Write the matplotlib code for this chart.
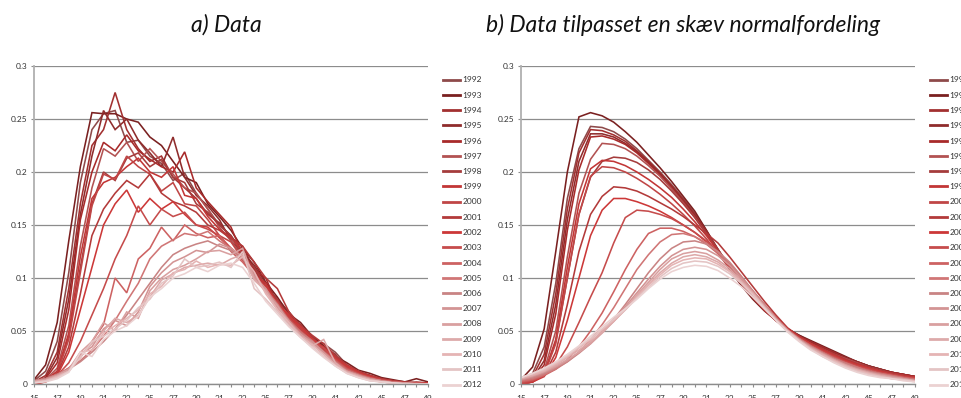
import matplotlib
matplotlib.use("Agg")
import matplotlib.pyplot as plt
from matplotlib.lines import Line2D

plt.rcParams['font.family'] = ['Lato', 'DejaVu Sans']

ages = list(range(15, 50))
years = list(range(1992, 2013))
age_tick_labels = [str(a) if a % 2 == 1 else "" for a in ages]
y_ticks = [0, 0.05, 0.1, 0.15, 0.2, 0.25, 0.3]
y_tick_labels = ["0", "0.05", "0.1", "0.15", "0.2", "0.25", "0.3"]

year_colors = ["#8e4a4a", "#7a2020", "#a23030", "#8f2c2c", "#a82a2a", "#b25252",
               "#a53c3c", "#c23636", "#c04646", "#b33a3a", "#cc3838", "#c64c4c",
               "#cd6262", "#d07676", "#c98484", "#d39494", "#d9a0a0", "#ddaaaa",
               "#e5b4b4", "#e4c4c4", "#ebd2d2"]

# a) observed age distribution per year (ages 15..49)
obs_1992 = [0.003, 0.012, 0.040, 0.105, 0.190, 0.240, 0.255, 0.258, 0.228, 0.230, 0.215, 0.208, 0.192, 0.199, 0.180, 0.165, 0.150, 0.140, 0.125, 0.110, 0.092, 0.080, 0.068, 0.055, 0.044, 0.038, 0.030, 0.018, 0.012, 0.008, 0.005, 0.003, 0.002, 0.001, 0.001]
obs_1993 = [0.004, 0.018, 0.058, 0.135, 0.205, 0.256, 0.255, 0.255, 0.250, 0.247, 0.233, 0.225, 0.210, 0.195, 0.190, 0.170, 0.158, 0.145, 0.128, 0.115, 0.096, 0.082, 0.066, 0.058, 0.045, 0.036, 0.026, 0.020, 0.013, 0.010, 0.006, 0.004, 0.002, 0.005, 0.002]
obs_1994 = [0.002, 0.008, 0.030, 0.090, 0.170, 0.225, 0.240, 0.275, 0.240, 0.222, 0.210, 0.215, 0.195, 0.185, 0.175, 0.160, 0.152, 0.138, 0.130, 0.108, 0.090, 0.078, 0.063, 0.052, 0.043, 0.033, 0.025, 0.016, 0.011, 0.007, 0.004, 0.002, 0.001, 0.001, 0.001]
obs_1995 = [0.001, 0.006, 0.025, 0.080, 0.160, 0.215, 0.258, 0.240, 0.250, 0.230, 0.218, 0.205, 0.233, 0.195, 0.178, 0.168, 0.155, 0.135, 0.124, 0.112, 0.095, 0.078, 0.068, 0.050, 0.042, 0.035, 0.028, 0.012, 0.010, 0.008, 0.004, 0.003, 0.001, 0.001, 0.000]
obs_1996 = [0.001, 0.005, 0.020, 0.070, 0.155, 0.200, 0.228, 0.220, 0.235, 0.220, 0.212, 0.205, 0.200, 0.219, 0.185, 0.172, 0.160, 0.148, 0.122, 0.108, 0.100, 0.075, 0.062, 0.056, 0.040, 0.032, 0.024, 0.017, 0.011, 0.007, 0.004, 0.002, 0.001, 0.001, 0.001]
obs_1997 = [0.000, 0.004, 0.015, 0.055, 0.130, 0.185, 0.222, 0.215, 0.228, 0.210, 0.222, 0.210, 0.198, 0.185, 0.180, 0.165, 0.148, 0.135, 0.120, 0.105, 0.090, 0.076, 0.064, 0.050, 0.041, 0.034, 0.025, 0.016, 0.012, 0.006, 0.004, 0.002, 0.001, 0.002, 0.001]
obs_1998 = [0.000, 0.003, 0.012, 0.045, 0.110, 0.170, 0.200, 0.192, 0.213, 0.218, 0.205, 0.212, 0.195, 0.190, 0.170, 0.162, 0.150, 0.140, 0.120, 0.110, 0.092, 0.080, 0.062, 0.052, 0.045, 0.032, 0.024, 0.015, 0.010, 0.007, 0.004, 0.002, 0.001, 0.001, 0.000]
obs_1999 = [0.000, 0.003, 0.012, 0.048, 0.120, 0.175, 0.190, 0.195, 0.205, 0.213, 0.200, 0.195, 0.205, 0.178, 0.175, 0.158, 0.146, 0.138, 0.126, 0.103, 0.095, 0.075, 0.066, 0.051, 0.040, 0.035, 0.026, 0.016, 0.011, 0.008, 0.004, 0.003, 0.001, 0.001, 0.001]
obs_2000 = [0.000, 0.003, 0.010, 0.042, 0.105, 0.168, 0.198, 0.193, 0.215, 0.205, 0.198, 0.182, 0.190, 0.170, 0.168, 0.155, 0.140, 0.134, 0.118, 0.106, 0.088, 0.078, 0.061, 0.053, 0.042, 0.033, 0.023, 0.014, 0.012, 0.007, 0.004, 0.002, 0.001, 0.001, 0.000]
obs_2001 = [0.000, 0.002, 0.009, 0.035, 0.085, 0.140, 0.165, 0.180, 0.192, 0.185, 0.198, 0.180, 0.172, 0.168, 0.162, 0.150, 0.145, 0.137, 0.130, 0.115, 0.100, 0.090, 0.068, 0.055, 0.046, 0.038, 0.027, 0.018, 0.012, 0.008, 0.005, 0.003, 0.002, 0.001, 0.001]
obs_2002 = [0.000, 0.002, 0.008, 0.030, 0.070, 0.110, 0.150, 0.170, 0.183, 0.162, 0.175, 0.165, 0.172, 0.160, 0.150, 0.148, 0.138, 0.128, 0.117, 0.102, 0.092, 0.076, 0.064, 0.054, 0.043, 0.034, 0.024, 0.017, 0.011, 0.007, 0.004, 0.002, 0.001, 0.001, 0.001]
obs_2003 = [0.001, 0.003, 0.008, 0.020, 0.040, 0.065, 0.090, 0.118, 0.140, 0.168, 0.150, 0.165, 0.158, 0.162, 0.150, 0.146, 0.140, 0.128, 0.118, 0.100, 0.090, 0.074, 0.062, 0.050, 0.040, 0.034, 0.023, 0.015, 0.010, 0.006, 0.004, 0.002, 0.001, 0.001, 0.000]
obs_2004 = [0.002, 0.004, 0.008, 0.015, 0.025, 0.040, 0.056, 0.100, 0.086, 0.118, 0.128, 0.148, 0.135, 0.150, 0.142, 0.138, 0.140, 0.125, 0.115, 0.102, 0.088, 0.076, 0.060, 0.050, 0.040, 0.031, 0.022, 0.014, 0.009, 0.006, 0.003, 0.002, 0.001, 0.001, 0.000]
obs_2005 = [0.003, 0.005, 0.009, 0.015, 0.022, 0.032, 0.045, 0.060, 0.078, 0.095, 0.118, 0.130, 0.136, 0.142, 0.140, 0.144, 0.135, 0.128, 0.120, 0.100, 0.090, 0.075, 0.060, 0.049, 0.041, 0.030, 0.021, 0.013, 0.009, 0.005, 0.003, 0.002, 0.001, 0.000, 0.000]
obs_2006 = [0.003, 0.005, 0.009, 0.014, 0.021, 0.030, 0.040, 0.052, 0.065, 0.080, 0.095, 0.110, 0.122, 0.128, 0.132, 0.135, 0.130, 0.126, 0.118, 0.104, 0.088, 0.075, 0.058, 0.048, 0.040, 0.029, 0.020, 0.012, 0.008, 0.005, 0.003, 0.001, 0.001, 0.000, 0.000]
obs_2007 = [0.003, 0.004, 0.008, 0.013, 0.028, 0.035, 0.052, 0.060, 0.055, 0.068, 0.092, 0.105, 0.115, 0.120, 0.126, 0.124, 0.132, 0.128, 0.120, 0.102, 0.090, 0.072, 0.060, 0.046, 0.040, 0.030, 0.020, 0.012, 0.008, 0.005, 0.003, 0.001, 0.001, 0.000, 0.000]
obs_2008 = [0.002, 0.004, 0.008, 0.014, 0.030, 0.040, 0.058, 0.050, 0.068, 0.062, 0.088, 0.100, 0.108, 0.112, 0.118, 0.125, 0.126, 0.122, 0.128, 0.100, 0.087, 0.074, 0.058, 0.047, 0.038, 0.028, 0.018, 0.012, 0.008, 0.004, 0.002, 0.001, 0.001, 0.000, 0.000]
obs_2009 = [0.002, 0.003, 0.007, 0.012, 0.026, 0.038, 0.050, 0.062, 0.058, 0.065, 0.082, 0.098, 0.104, 0.110, 0.112, 0.114, 0.112, 0.118, 0.122, 0.098, 0.088, 0.070, 0.056, 0.045, 0.036, 0.042, 0.020, 0.011, 0.007, 0.004, 0.002, 0.001, 0.000, 0.000, 0.000]
obs_2010 = [0.002, 0.003, 0.007, 0.012, 0.030, 0.032, 0.048, 0.055, 0.062, 0.070, 0.085, 0.092, 0.105, 0.108, 0.116, 0.110, 0.113, 0.112, 0.120, 0.106, 0.085, 0.070, 0.058, 0.045, 0.037, 0.028, 0.018, 0.011, 0.007, 0.004, 0.002, 0.001, 0.000, 0.000, 0.000]
obs_2011 = [0.001, 0.003, 0.006, 0.012, 0.025, 0.040, 0.045, 0.052, 0.060, 0.072, 0.080, 0.095, 0.102, 0.118, 0.110, 0.112, 0.115, 0.110, 0.125, 0.090, 0.080, 0.068, 0.055, 0.044, 0.035, 0.026, 0.017, 0.010, 0.006, 0.003, 0.002, 0.001, 0.000, 0.000, 0.000]
obs_2012 = [0.001, 0.002, 0.005, 0.011, 0.030, 0.026, 0.042, 0.050, 0.055, 0.064, 0.082, 0.090, 0.100, 0.104, 0.110, 0.106, 0.112, 0.114, 0.110, 0.095, 0.078, 0.066, 0.054, 0.044, 0.034, 0.025, 0.017, 0.010, 0.006, 0.003, 0.002, 0.001, 0.000, 0.000, 0.000]

# b) fitted skew-normal curves per year (ages 15..49)
fit_1992 = [0.002, 0.010, 0.035, 0.095, 0.175, 0.222, 0.243, 0.242, 0.238, 0.231, 0.222, 0.211, 0.200, 0.188, 0.175, 0.161, 0.145, 0.127, 0.110, 0.094, 0.081, 0.070, 0.060, 0.052, 0.046, 0.040, 0.035, 0.030, 0.025, 0.021, 0.017, 0.014, 0.011, 0.009, 0.007]
fit_1993 = [0.004, 0.016, 0.052, 0.125, 0.200, 0.252, 0.256, 0.253, 0.247, 0.238, 0.228, 0.216, 0.204, 0.191, 0.177, 0.163, 0.145, 0.126, 0.108, 0.093, 0.080, 0.069, 0.060, 0.052, 0.046, 0.041, 0.036, 0.031, 0.026, 0.021, 0.017, 0.014, 0.011, 0.009, 0.007]
fit_1994 = [0.001, 0.007, 0.028, 0.085, 0.165, 0.218, 0.240, 0.239, 0.235, 0.229, 0.220, 0.210, 0.199, 0.187, 0.174, 0.160, 0.144, 0.127, 0.110, 0.095, 0.082, 0.070, 0.060, 0.052, 0.045, 0.040, 0.035, 0.030, 0.025, 0.021, 0.017, 0.014, 0.011, 0.009, 0.007]
fit_1995 = [0.001, 0.005, 0.022, 0.075, 0.155, 0.210, 0.236, 0.236, 0.233, 0.227, 0.219, 0.209, 0.198, 0.186, 0.173, 0.159, 0.143, 0.126, 0.110, 0.095, 0.082, 0.070, 0.060, 0.052, 0.045, 0.039, 0.034, 0.029, 0.025, 0.021, 0.017, 0.014, 0.011, 0.009, 0.007]
fit_1996 = [0.000, 0.004, 0.018, 0.066, 0.145, 0.202, 0.233, 0.234, 0.231, 0.226, 0.218, 0.208, 0.197, 0.185, 0.172, 0.158, 0.142, 0.126, 0.110, 0.095, 0.082, 0.070, 0.060, 0.052, 0.045, 0.039, 0.034, 0.029, 0.024, 0.020, 0.016, 0.013, 0.011, 0.009, 0.007]
fit_1997 = [0.000, 0.003, 0.013, 0.050, 0.120, 0.180, 0.212, 0.227, 0.226, 0.222, 0.215, 0.206, 0.196, 0.184, 0.171, 0.157, 0.142, 0.126, 0.110, 0.095, 0.082, 0.070, 0.060, 0.051, 0.044, 0.038, 0.033, 0.028, 0.024, 0.020, 0.016, 0.013, 0.010, 0.008, 0.006]
fit_1998 = [0.000, 0.002, 0.010, 0.040, 0.100, 0.160, 0.195, 0.210, 0.214, 0.213, 0.209, 0.202, 0.193, 0.182, 0.170, 0.157, 0.142, 0.127, 0.111, 0.096, 0.082, 0.070, 0.060, 0.051, 0.044, 0.038, 0.033, 0.028, 0.023, 0.019, 0.016, 0.013, 0.010, 0.008, 0.006]
fit_1999 = [0.000, 0.002, 0.010, 0.042, 0.110, 0.170, 0.203, 0.211, 0.210, 0.206, 0.200, 0.193, 0.185, 0.176, 0.165, 0.153, 0.140, 0.125, 0.110, 0.096, 0.082, 0.070, 0.060, 0.051, 0.044, 0.038, 0.032, 0.027, 0.023, 0.019, 0.015, 0.012, 0.010, 0.008, 0.006]
fit_2000 = [0.000, 0.002, 0.009, 0.038, 0.100, 0.160, 0.196, 0.205, 0.204, 0.200, 0.194, 0.187, 0.179, 0.170, 0.160, 0.149, 0.137, 0.123, 0.109, 0.095, 0.082, 0.070, 0.060, 0.051, 0.044, 0.037, 0.032, 0.027, 0.022, 0.018, 0.015, 0.012, 0.009, 0.007, 0.006]
fit_2001 = [0.000, 0.002, 0.008, 0.030, 0.075, 0.125, 0.160, 0.177, 0.186, 0.185, 0.182, 0.177, 0.171, 0.165, 0.158, 0.150, 0.142, 0.133, 0.120, 0.106, 0.092, 0.078, 0.065, 0.053, 0.045, 0.038, 0.033, 0.028, 0.023, 0.019, 0.015, 0.012, 0.010, 0.008, 0.006]
fit_2002 = [0.000, 0.002, 0.007, 0.025, 0.060, 0.100, 0.140, 0.164, 0.175, 0.175, 0.172, 0.168, 0.163, 0.157, 0.150, 0.143, 0.134, 0.124, 0.113, 0.100, 0.087, 0.075, 0.063, 0.052, 0.044, 0.038, 0.032, 0.027, 0.022, 0.018, 0.015, 0.012, 0.009, 0.007, 0.006]
fit_2003 = [0.001, 0.003, 0.008, 0.018, 0.035, 0.058, 0.082, 0.105, 0.133, 0.157, 0.164, 0.163, 0.160, 0.156, 0.150, 0.143, 0.135, 0.125, 0.113, 0.100, 0.087, 0.074, 0.062, 0.051, 0.043, 0.037, 0.031, 0.026, 0.021, 0.017, 0.014, 0.011, 0.009, 0.007, 0.005]
fit_2004 = [0.002, 0.004, 0.008, 0.014, 0.023, 0.035, 0.050, 0.067, 0.087, 0.108, 0.127, 0.142, 0.147, 0.147, 0.144, 0.139, 0.132, 0.123, 0.112, 0.100, 0.087, 0.074, 0.062, 0.051, 0.043, 0.036, 0.030, 0.025, 0.020, 0.016, 0.013, 0.010, 0.008, 0.006, 0.005]
fit_2005 = [0.003, 0.005, 0.009, 0.014, 0.021, 0.030, 0.042, 0.056, 0.072, 0.090, 0.108, 0.122, 0.134, 0.141, 0.142, 0.139, 0.133, 0.124, 0.113, 0.101, 0.088, 0.075, 0.062, 0.051, 0.043, 0.036, 0.030, 0.024, 0.020, 0.016, 0.012, 0.010, 0.008, 0.006, 0.004]
fit_2006 = [0.004, 0.006, 0.010, 0.015, 0.021, 0.029, 0.038, 0.049, 0.061, 0.075, 0.090, 0.105, 0.118, 0.128, 0.134, 0.135, 0.132, 0.125, 0.115, 0.102, 0.088, 0.075, 0.062, 0.051, 0.042, 0.035, 0.029, 0.024, 0.019, 0.015, 0.012, 0.009, 0.007, 0.005, 0.004]
fit_2007 = [0.004, 0.007, 0.011, 0.016, 0.022, 0.030, 0.039, 0.049, 0.061, 0.073, 0.086, 0.099, 0.111, 0.121, 0.127, 0.129, 0.127, 0.121, 0.112, 0.100, 0.087, 0.074, 0.062, 0.051, 0.042, 0.035, 0.029, 0.023, 0.018, 0.014, 0.011, 0.009, 0.007, 0.005, 0.003]
fit_2008 = [0.005, 0.008, 0.012, 0.017, 0.023, 0.030, 0.038, 0.048, 0.059, 0.071, 0.084, 0.096, 0.108, 0.118, 0.123, 0.125, 0.123, 0.117, 0.109, 0.098, 0.086, 0.073, 0.061, 0.050, 0.042, 0.034, 0.028, 0.023, 0.018, 0.014, 0.011, 0.008, 0.006, 0.005, 0.003]
fit_2009 = [0.005, 0.008, 0.012, 0.018, 0.025, 0.032, 0.040, 0.049, 0.059, 0.070, 0.083, 0.094, 0.105, 0.114, 0.120, 0.122, 0.120, 0.115, 0.107, 0.097, 0.086, 0.073, 0.061, 0.050, 0.041, 0.034, 0.028, 0.022, 0.017, 0.013, 0.010, 0.008, 0.006, 0.004, 0.003]
fit_2010 = [0.006, 0.009, 0.013, 0.019, 0.026, 0.034, 0.042, 0.051, 0.060, 0.070, 0.082, 0.093, 0.103, 0.112, 0.117, 0.119, 0.118, 0.113, 0.106, 0.096, 0.085, 0.072, 0.060, 0.050, 0.041, 0.033, 0.027, 0.022, 0.017, 0.013, 0.010, 0.007, 0.005, 0.004, 0.003]
fit_2011 = [0.006, 0.010, 0.014, 0.020, 0.027, 0.035, 0.043, 0.052, 0.061, 0.070, 0.081, 0.091, 0.101, 0.109, 0.114, 0.116, 0.115, 0.111, 0.104, 0.095, 0.084, 0.072, 0.060, 0.050, 0.041, 0.033, 0.026, 0.021, 0.016, 0.012, 0.009, 0.007, 0.005, 0.004, 0.002]
fit_2012 = [0.006, 0.010, 0.015, 0.021, 0.028, 0.036, 0.045, 0.054, 0.063, 0.071, 0.080, 0.090, 0.099, 0.106, 0.110, 0.112, 0.111, 0.107, 0.100, 0.092, 0.082, 0.071, 0.060, 0.049, 0.040, 0.032, 0.026, 0.020, 0.015, 0.011, 0.008, 0.006, 0.005, 0.003, 0.002]

observed = [obs_1992, obs_1993, obs_1994, obs_1995, obs_1996, obs_1997, obs_1998,
            obs_1999, obs_2000, obs_2001, obs_2002, obs_2003, obs_2004, obs_2005,
            obs_2006, obs_2007, obs_2008, obs_2009, obs_2010, obs_2011, obs_2012]
fitted = [fit_1992, fit_1993, fit_1994, fit_1995, fit_1996, fit_1997, fit_1998,
          fit_1999, fit_2000, fit_2001, fit_2002, fit_2003, fit_2004, fit_2005,
          fit_2006, fit_2007, fit_2008, fit_2009, fit_2010, fit_2011, fit_2012]

W, H = 962, 398
fig = plt.figure(figsize=(W / 100, H / 100), dpi=100)


def axes_px(x0, x1, y_top, y_bot):
    return fig.add_axes([x0 / W, 1 - y_bot / H, (x1 - x0) / W, (y_bot - y_top) / H])


def style_axes(ax):
    ax.set_xlim(15, 49)
    ax.set_ylim(0, 0.3)
    ax.set_xticks(ages)
    ax.set_xticklabels(age_tick_labels)
    ax.set_yticks(y_ticks)
    ax.set_yticklabels(y_tick_labels)
    ax.grid(axis='y', color='#8c8c8c', linewidth=0.9)
    ax.set_axisbelow(True)
    for side in ('top', 'right'):
        ax.spines[side].set_visible(False)
    ax.spines['left'].set_color('#b0b0b0')
    ax.spines['left'].set_linewidth(1.3)
    ax.spines['bottom'].set_color('#8c8c8c')
    ax.spines['bottom'].set_linewidth(1.0)
    ax.tick_params(axis='x', length=2.5, width=0.8, color='#8c8c8c', pad=5.5,
                   labelsize=6, labelcolor='#333333')
    ax.tick_params(axis='y', length=2.5, width=0.8, color='#8c8c8c', pad=2,
                   labelsize=6, labelcolor='#333333')


def draw_panel(ax, series, legend_x):
    for vals, col in zip(series, year_colors):
        ax.plot(ages, vals, color=col, linewidth=1.15, solid_joinstyle='miter')
    style_axes(ax)
    handles = [Line2D([], [], color=c, linewidth=2.0) for c in year_colors]
    ax.legend(handles, [str(y) for y in years], loc='upper left',
              bbox_to_anchor=(legend_x / W, 1 - 76.5 / H),
              bbox_transform=fig.transFigure, frameon=False, fontsize=6,
              handlelength=2.1, handletextpad=0.2, labelspacing=0.99,
              borderaxespad=0, borderpad=0, labelcolor='#333333')


ax_a = axes_px(34, 428, 66, 384)
ax_b = axes_px(521, 915, 66, 384)
draw_panel(ax_a, observed, 443)
draw_panel(ax_b, fitted, 930)

fig.text(226 / W, 1 - 25 / H, "a) Data", ha='center', va='center',
         fontsize=16.5, style='italic', color='#111111')
fig.text(683 / W, 1 - 25 / H, "b) Data tilpasset en skæv normalfordeling",
         ha='center', va='center', fontsize=16.5, style='italic', color='#111111')

fig.savefig("out.png", dpi=100)
